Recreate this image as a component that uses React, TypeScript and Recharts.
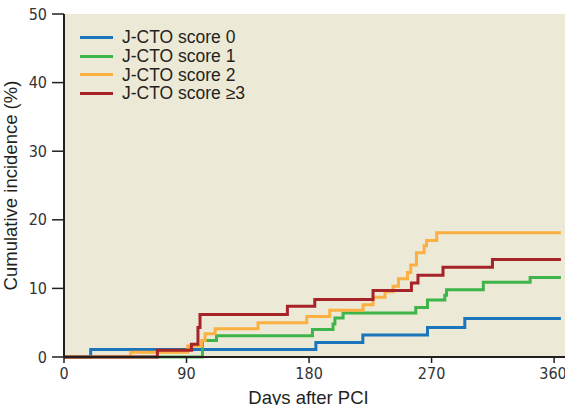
import { CartesianGrid, Line, LineChart, XAxis, YAxis } from "recharts";

// Kaplan-Meier style step curves (day, cumulative %)
const score0Days = [0, 19.6, 185, 219.5, 267, 294.4, 365];
const score0Pct = [0, 1.1, 2.1, 3.2, 4.3, 5.6, 5.6];

const score1Days = [0, 101.7, 112, 182.5, 197.6, 199, 205, 258.4, 267, 279.7, 281, 308, 342.4, 365];
const score1Pct = [0, 2.4, 3.1, 4.0, 4.8, 5.7, 6.4, 7.2, 8.3, 9.0, 9.8, 10.9, 11.6, 11.6];

const score2Days = [
  0, 49, 90.9, 101.2, 103.6, 111, 142.5, 178.3, 195.2, 219.7, 227, 235.8, 241.7, 245.7, 252.3,
  254.7, 258.9, 264.5, 266.3, 273.8, 365,
];
const score2Pct = [
  0, 0.7, 1.6, 2.4, 3.4, 4.1, 5.0, 5.9, 6.8, 7.6, 8.7, 9.5, 10.3, 11.4, 12.3, 13.4, 15.2, 16.2,
  17.0, 18.1, 18.1,
];

const score3Days = [0, 68.6, 93.6, 98.4, 99.9, 164.1, 184.2, 227, 255.2, 260, 278.4, 314.7, 365];
const score3Pct = [0, 1.0, 1.85, 4.3, 6.2, 7.4, 8.4, 9.7, 10.8, 11.9, 13.1, 14.2, 14.2];

const xTicks = [0, 90, 180, 270, 360];
const yTicks = [0, 10, 20, 30, 40, 50];

const toPoints = (days: number[], pct: number[]) => days.map((day, i) => ({ day, pct: pct[i] }));

const series = [
  { name: "J-CTO score 0", color: "#1b75bb", data: toPoints(score0Days, score0Pct) },
  { name: "J-CTO score 1", color: "#3db54a", data: toPoints(score1Days, score1Pct) },
  { name: "J-CTO score 2", color: "#fbb041", data: toPoints(score2Days, score2Pct) },
  { name: "J-CTO score \u22653", color: "#a6232a", data: toPoints(score3Days, score3Pct) },
];

const INK = "#231f20";
const tickFont = {
  fontSize: 16,
  fill: "#333",
  fontFamily: "'Liberation Sans Narrow', 'DejaVu Sans Condensed', sans-serif",
};
const labelFont = "'Liberation Sans', Arial, sans-serif";

function LegendBox() {
  return (
    <div
      style={{
        position: "absolute",
        left: 80,
        top: 28,
        fontFamily: labelFont,
        fontSize: 17.5,
        color: INK,
      }}
    >
      {series.map((s) => (
        <div key={s.name} style={{ display: "flex", alignItems: "center", height: 18.8 }}>
          <span style={{ width: 33, height: 3, background: s.color, marginRight: 9 }} />
          <span>{s.name}</span>
        </div>
      ))}
    </div>
  );
}

export default function App() {
  return (
    <div style={{ position: "absolute", left: 0, top: 0, width: 565, height: 405, background: "#fff" }}>
      <LineChart width={565} height={405} margin={{ top: 14, right: 0, bottom: 0, left: 0 }}>
        <CartesianGrid horizontal={false} vertical={false} fill="#ece9d6" />
        <XAxis
          type="number"
          dataKey="day"
          domain={[0, 368]}
          ticks={xTicks}
          height={48}
          tickSize={6}
          tickMargin={5}
          tick={tickFont}
          axisLine={{ stroke: INK, strokeWidth: 2 }}
          tickLine={{ stroke: INK, strokeWidth: 1.5 }}
          allowDataOverflow
          label={{
            value: "Days after PCI",
            position: "insideBottom",
            offset: 1,
            dx: -6,
            style: { fontFamily: labelFont, fontSize: 18.5, fill: INK },
          }}
        />
        <YAxis
          type="number"
          domain={[0, 50]}
          ticks={yTicks}
          width={64}
          tickSize={12}
          tickMargin={5}
          tick={tickFont}
          axisLine={{ stroke: INK, strokeWidth: 2 }}
          tickLine={{ stroke: INK, strokeWidth: 1.5 }}
          label={{
            value: "Cumulative incidence (%)",
            angle: -90,
            position: "insideLeft",
            offset: 10,
            style: { fontFamily: labelFont, fontSize: 18.5, fill: INK, textAnchor: "middle" },
          }}
        />
        {series.map((s) => (
          <Line
            key={s.name}
            data={s.data}
            dataKey="pct"
            name={s.name}
            type="stepAfter"
            stroke={s.color}
            strokeWidth={3}
            dot={false}
            activeDot={false}
            isAnimationActive={false}
          />
        ))}
      </LineChart>
      <LegendBox />
    </div>
  );
}
